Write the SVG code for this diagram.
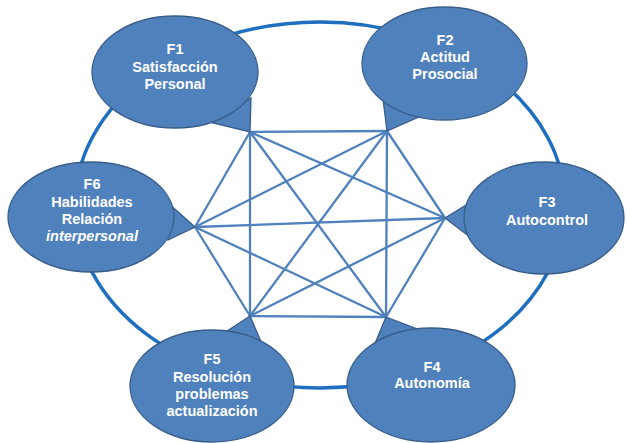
<svg xmlns="http://www.w3.org/2000/svg" width="627" height="443" viewBox="0 0 627 443">
<style>
.ring{fill:none;stroke:#1f6fc0;stroke-width:3.5}
.c{stroke:#4f81bd;stroke-width:2.3;fill:none}
.n{fill:#4f81bd;stroke:#385d8a;stroke-width:1.3;stroke-linejoin:miter}
.t{font-family:"Liberation Sans",Arial,sans-serif;font-weight:bold;font-size:14.5px;fill:#fff;text-anchor:middle}
</style>
<rect width="627" height="443" fill="#fff"/>
<g id="ring"><ellipse class="ring" cx="320" cy="205" rx="245" ry="183"/></g>
<g id="connectors">
<line class="c" x1="250" y1="132" x2="387" y2="131"/>
<line class="c" x1="250" y1="132" x2="445" y2="218"/>
<line class="c" x1="250" y1="132" x2="386" y2="317"/>
<line class="c" x1="250" y1="132" x2="250" y2="316"/>
<line class="c" x1="250" y1="132" x2="195" y2="227"/>
<line class="c" x1="387" y1="131" x2="445" y2="218"/>
<line class="c" x1="387" y1="131" x2="386" y2="317"/>
<line class="c" x1="387" y1="131" x2="250" y2="316"/>
<line class="c" x1="387" y1="131" x2="195" y2="227"/>
<line class="c" x1="445" y1="218" x2="386" y2="317"/>
<line class="c" x1="445" y1="218" x2="250" y2="316"/>
<line class="c" x1="445" y1="218" x2="195" y2="227"/>
<line class="c" x1="386" y1="317" x2="250" y2="316"/>
<line class="c" x1="386" y1="317" x2="195" y2="227"/>
<line class="c" x1="250" y1="316" x2="195" y2="227"/>
</g>
<g id="f1">
<polygon class="n" points="250,132 251,98 209,122"/>
<ellipse class="n" cx="175" cy="72" rx="83" ry="56"/>
<text class="t" x="175" y="54">F1</text>
<text class="t" x="175" y="72">Satisfacción</text>
<text class="t" x="175" y="89">Personal</text>
</g>
<g id="f2">
<polygon class="n" points="387,131 383,99 421,116"/>
<ellipse class="n" cx="444.5" cy="63.5" rx="82.5" ry="56.5"/>
<text class="t" x="445" y="45">F2</text>
<text class="t" x="445" y="62">Actitud</text>
<text class="t" x="445" y="79">Prosocial</text>
</g>
<g id="f3">
<polygon class="n" points="445,218 471,202 470,237"/>
<ellipse class="n" cx="544" cy="218" rx="80" ry="56"/>
<text class="t" x="547" y="207">F3</text>
<text class="t" x="547" y="225">Autocontrol</text>
</g>
<g id="f4">
<polygon class="n" points="386,317 374,346 420,330"/>
<ellipse class="n" cx="431" cy="385" rx="84" ry="57"/>
<text class="t" x="432" y="372">F4</text>
<text class="t" x="432" y="388">Autonomía</text>
</g>
<g id="f5">
<polygon class="n" points="250,316 224,333 262,344"/>
<ellipse class="n" cx="212" cy="386" rx="82" ry="56"/>
<text class="t" x="212" y="364">F5</text>
<text class="t" x="212" y="382">Resolución</text>
<text class="t" x="212" y="399">problemas</text>
<text class="t" x="212" y="416">actualización</text>
</g>
<g id="f6">
<polygon class="n" points="195,227 168,203 168,240"/>
<ellipse class="n" cx="91" cy="217" rx="83" ry="55"/>
<text class="t" x="92" y="189">F6</text>
<text class="t" x="92" y="207">Habilidades</text>
<text class="t" x="92" y="224">Relación</text>
<text class="t" x="92" y="241" font-style="italic">interpersonal</text>
</g>
</svg>
